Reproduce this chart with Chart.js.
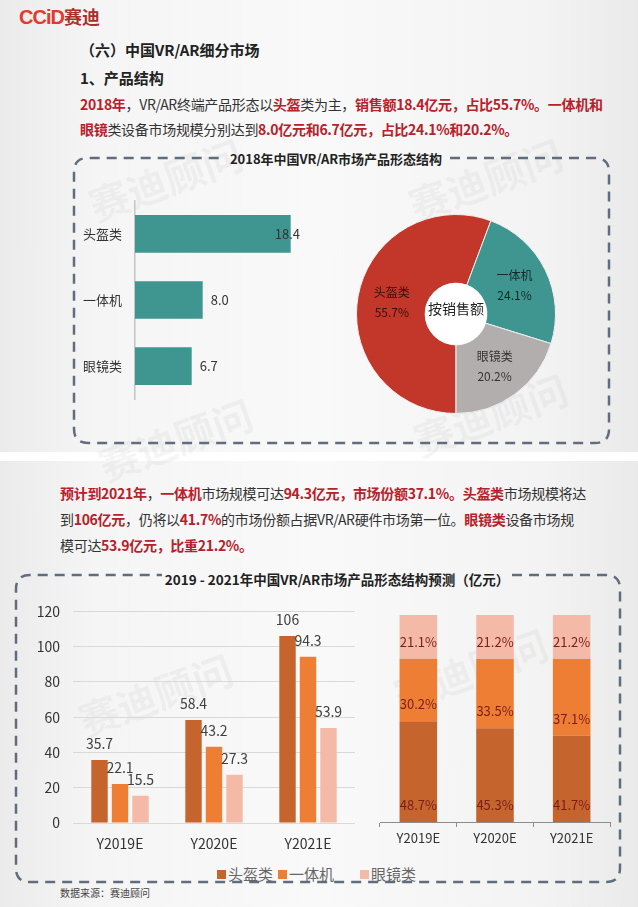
<!DOCTYPE html>
<html lang="zh-CN">
<head>
<meta charset="utf-8">
<title>中国VR/AR细分市场</title>
<script src="https://cdn.jsdelivr.net/npm/chart.js@4.4.1/dist/chart.umd.min.js"></script>
<style>
  html, body { margin: 0; padding: 0; }
  body {
    width: 638px; height: 907px; position: relative; overflow: hidden;
    background: #fff; color: #333;
    font-family: "Noto Sans CJK SC", sans-serif;
  }
  .slide {
    position: absolute; left: 0; width: 638px;
    background: linear-gradient(90deg, #ebebeb 0%, #f5f5f5 15%, #f9f9f9 50%, #f3f3f3 85%, #eaeaea 100%);
  }
  #slide1 { top: 0; height: 452px; }
  #slide2 { top: 461px; height: 446px; }
  .t { position: absolute; white-space: nowrap; line-height: 20px; }
  .r { color: #b8202a; font-weight: bold; }
  .head { font-size: 15px; font-weight: bold; color: #222; }
  .para { font-size: 14px; letter-spacing: -0.3px; }
  .btitle { font-size: 13px; font-weight: bold; color: #222; transform: translateX(-50%); }
  .wm {
    position: absolute; white-space: nowrap; font-size: 40px; font-weight: bold;
    color: rgba(150, 150, 150, 0.09); transform: rotate(-20deg);
  }
  canvas { position: absolute; }
  .leg { position: absolute; top: 866px; font-size: 15px; line-height: 16px; color: #666; white-space: nowrap; }
  .leg i { display: inline-block; width: 9px; height: 9px; margin-right: 2px; vertical-align: 1px; }
  svg { position: absolute; left: 0; top: 0; }
</style>
</head>
<body>
<div class="slide" id="slide1"></div>
<div class="slide" id="slide2"></div>

<div class="wm" style="left:85px; top:150px;">赛迪顾问</div>
<div class="wm" style="left:405px; top:150px;">赛迪顾问</div>
<div class="wm" style="left:95px; top:410px;">赛迪顾问</div>
<div class="wm" style="left:410px; top:385px;">赛迪顾问</div>
<div class="wm" style="left:75px; top:665px;">赛迪顾问</div>
<div class="wm" style="left:390px; top:640px;">赛迪顾问</div>

<div class="t" style="left:19px; top:5px; line-height:22px;">
  <span style="font-family:'Liberation Sans'; font-weight:bold; font-size:20px; color:#e3392e; letter-spacing:-1px;">CCiD</span><span style="font-size:18px; font-weight:bold; color:#a9302b;">赛迪</span>
</div>

<div class="t head" style="left:80px; top:40px;">（六）中国VR/AR细分市场</div>
<div class="t head" style="left:80px; top:68px;">1、产品结构</div>
<div class="t para" style="left:80px; top:94px;"><span class="r">2018年</span>，VR/AR终端产品形态以<span class="r">头盔</span>类为主，<span class="r">销售额18.4亿元，占比55.7%。一体机和</span></div>
<div class="t para" style="left:80px; top:119px;"><span class="r">眼镜</span>类设备市场规模分别达到<span class="r">8.0亿元和6.7亿元，占比24.1%和20.2%。</span></div>

<div class="t para" style="left:60px; top:483px;"><span class="r">预计到2021年</span>，<span class="r">一体机</span>市场规模可达<span class="r">94.3亿元，市场份额37.1%。头盔类</span>市场规模将达</div>
<div class="t para" style="left:60px; top:509px;">到<span class="r">106亿元</span>，仍将以<span class="r">41.7%</span>的市场份额占据VR/AR硬件市场第一位。<span class="r">眼镜类</span>设备市场规</div>
<div class="t para" style="left:60px; top:535px;">模可达<span class="r">53.9亿元，比重21.2%。</span></div>

<svg width="638" height="907">
  <path d="M450 158 H595 Q609 158 609 172 V429 Q609 443 595 443 H88 Q74 443 74 429 V172 Q74 158 88 158 H222"
        fill="none" stroke="#5f6d7c" stroke-width="2.5" stroke-dasharray="10 7"/>
  <path d="M512 575 H606 Q620 575 620 589 V868 Q620 882 606 882 H30 Q16 882 16 868 V589 Q16 575 30 575 H162"
        fill="none" stroke="#5f6d7c" stroke-width="2.5" stroke-dasharray="10 7"/>
</svg>

<div class="t btitle" style="left:336px; top:149px;">2018年中国VR/AR市场产品形态结构</div>
<div class="t btitle" style="left:337px; top:569px; font-size:13.5px;">2019 - 2021年中国VR/AR市场产品形态结构预测（亿元）</div>

<canvas id="hbar" width="240" height="240" style="left:73px; top:180px;"></canvas>
<canvas id="donut" width="200" height="200" style="left:356px; top:214px;"></canvas>
<canvas id="grouped" width="345" height="270" style="left:15px; top:590px;"></canvas>
<canvas id="stacked" width="250" height="260" style="left:370px; top:600px;"></canvas>

<div class="leg" style="left:217px;"><i style="background:#c5652d"></i>头盔类</div>
<div class="leg" style="left:278px;"><i style="background:#ee7e34"></i>一体机</div>
<div class="leg" style="left:360px;"><i style="background:#f4baa7"></i>眼镜类</div>

<div class="t" style="left:60px; top:883px; font-size:10px; color:#444;">数据来源：赛迪顾问</div>

<script>
const FONT = '"Noto Sans CJK SC", sans-serif';

// 2018 产品形态
const products = ['头盔类', '一体机', '眼镜类'];
const sales2018 = [18.4, 8.0, 6.7];
const share2018 = [55.7, 24.1, 20.2];

// 2019-2021 预测（亿元）
const years = ['Y2019E', 'Y2020E', 'Y2021E'];
const helmet = [35.7, 58.4, 106];
const allInOne = [22.1, 43.2, 94.3];
const glasses = [15.5, 27.3, 53.9];
const yTicks = [0, 20, 40, 60, 80, 100, 120];

// 2019-2021 份额（%）
const helmetPct = [48.7, 45.3, 41.7];
const allInOnePct = [30.2, 33.5, 37.1];
const glassesPct = [21.1, 21.2, 21.2];

const teal = '#3f9590';
const red = '#c3362a';
const gray = '#b3aeae';
const orangeDark = '#c5652d';
const orange = '#ee7e34';
const pink = '#f4baa7';

Chart.defaults.font.family = FONT;
Chart.defaults.animation = false;
Chart.defaults.responsive = false;
Chart.defaults.plugins.legend.display = false;
Chart.defaults.plugins.tooltip.enabled = false;

const hbarLabels = {
  id: 'hbarLabels',
  afterDatasetsDraw(chart) {
    const ctx = chart.ctx;
    const area = chart.chartArea;
    ctx.save();
    ctx.font = '13px ' + FONT;
    ctx.fillStyle = '#333';
    ctx.textBaseline = 'middle';
    chart.getDatasetMeta(0).data.forEach((bar, i) => {
      const txt = sales2018[i].toFixed(1);
      const w = ctx.measureText(txt).width;
      let x = bar.x + 8;
      if (x + w > area.right) x = area.right - w;
      ctx.fillText(txt, x, bar.y);
    });
    ctx.restore();
  }
};

new Chart(document.getElementById('hbar'), {
  type: 'bar',
  data: {
    labels: products,
    datasets: [{ data: sales2018, backgroundColor: teal, barPercentage: 0.57, categoryPercentage: 1 }]
  },
  options: {
    indexAxis: 'y',
    layout: { padding: { top: 8, bottom: 11, right: 13 } },
    scales: {
      x: { display: false, min: 0, max: 19.5 },
      y: {
        grid: { display: false, drawTicks: false },
        border: { display: true, color: '#c4c4c4', width: 1.5 },
        ticks: { color: '#333', font: { size: 13 }, padding: 13 },
        afterFit: s => { s.width = 62; }
      }
    }
  },
  plugins: [hbarLabels]
});

const donutLabels = {
  id: 'donutLabels',
  afterDatasetsDraw(chart) {
    const ctx = chart.ctx;
    const meta = chart.getDatasetMeta(0);
    const a0 = meta.data[0];
    ctx.save();
    ctx.beginPath();
    ctx.arc(a0.x, a0.y, a0.innerRadius, 0, Math.PI * 2);
    ctx.fillStyle = '#fff';
    ctx.fill();
    ctx.textAlign = 'center';
    ctx.textBaseline = 'middle';
    ctx.font = '14px ' + FONT;
    ctx.fillStyle = '#222';
    ctx.fillText('按销售额', a0.x, a0.y - 5);
    ctx.font = '12px ' + FONT;
    ctx.fillStyle = 'rgba(0,0,0,0.72)';
    meta.data.forEach((arc, i) => {
      const p = arc.tooltipPosition();
      ctx.fillText(products[i], p.x, p.y - 10);
      ctx.fillText(share2018[i].toFixed(1) + '%', p.x, p.y + 10);
    });
    ctx.restore();
  }
};

new Chart(document.getElementById('donut'), {
  type: 'doughnut',
  data: {
    labels: products,
    datasets: [{ data: share2018, backgroundColor: [red, teal, gray], borderColor: '#eeeeee', borderWidth: 1 }]
  },
  options: { cutout: '31%', rotation: 180 },
  plugins: [donutLabels]
});

const topLabels = {
  id: 'topLabels',
  afterDatasetsDraw(chart) {
    const ctx = chart.ctx;
    ctx.save();
    ctx.font = '14px ' + FONT;
    ctx.fillStyle = '#404040';
    ctx.textAlign = 'center';
    ctx.textBaseline = 'middle';
    chart.data.datasets.forEach((ds, i) => {
      chart.getDatasetMeta(i).data.forEach((bar, j) => {
        ctx.fillText(String(ds.data[j]), bar.x, bar.y - 16);
      });
    });
    ctx.restore();
  }
};

new Chart(document.getElementById('grouped'), {
  type: 'bar',
  data: {
    labels: years,
    datasets: [
      { label: '头盔类', data: helmet, backgroundColor: orangeDark },
      { label: '一体机', data: allInOne, backgroundColor: orange },
      { label: '眼镜类', data: glasses, backgroundColor: pink }
    ]
  },
  options: {
    categoryPercentage: 0.654,
    barPercentage: 0.8,
    layout: { padding: { top: 19, right: 5 } },
    scales: {
      x: {
        grid: { display: false, drawTicks: false },
        border: { display: false },
        ticks: { color: '#333', font: { size: 14 }, padding: 12 },
        afterFit: s => { s.height = 37; }
      },
      y: {
        min: 0, max: 120,
        afterBuildTicks: s => { s.ticks = yTicks.map(v => ({ value: v })); },
        ticks: { color: '#333', font: { size: 14 }, padding: 13 },
        grid: { color: '#d9d9d9', drawTicks: false },
        border: { display: false },
        afterFit: s => { s.width = 58; }
      }
    }
  },
  plugins: [topLabels]
});

const baseLabels = {
  id: 'baseLabels',
  afterDatasetsDraw(chart) {
    const ctx = chart.ctx;
    ctx.save();
    ctx.font = '13px ' + FONT;
    ctx.fillStyle = '#7a1d1a';
    ctx.textAlign = 'center';
    ctx.textBaseline = 'middle';
    chart.data.datasets.forEach((ds, i) => {
      chart.getDatasetMeta(i).data.forEach((bar, j) => {
        ctx.fillText(ds.data[j].toFixed(1) + '%', bar.x, bar.base - 17);
      });
    });
    ctx.restore();
  }
};

new Chart(document.getElementById('stacked'), {
  type: 'bar',
  data: {
    labels: years,
    datasets: [
      { label: '头盔类', data: helmetPct, backgroundColor: orangeDark },
      { label: '一体机', data: allInOnePct, backgroundColor: orange },
      { label: '眼镜类', data: glassesPct, backgroundColor: pink }
    ]
  },
  options: {
    categoryPercentage: 1,
    barPercentage: 0.49,
    layout: { padding: { top: 15, left: 10, right: 10 } },
    scales: {
      x: {
        stacked: true,
        grid: { display: true, drawOnChartArea: false, drawTicks: true, tickLength: 5, color: '#8c8c8c' },
        border: { display: true, color: '#8c8c8c' },
        ticks: { color: '#333', font: { size: 13 }, padding: 3 },
        afterFit: s => { s.height = 38; }
      },
      y: { stacked: true, display: false, min: 0, max: 100 }
    }
  },
  plugins: [baseLabels]
});
</script>
</body>
</html>
